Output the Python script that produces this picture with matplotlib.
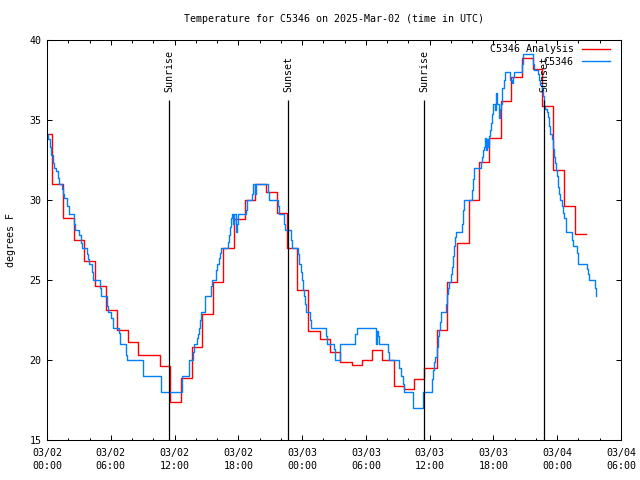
import matplotlib
matplotlib.use("Agg")
import matplotlib.pyplot as plt
import pandas as pd

start = pd.Timestamp("2025-03-02 00:00")

# analysis (hourly), hours since 03/02 00:00 UTC, deg F
ana_hours = [0, 0.5, 1.5, 2.55, 3.5, 4.55, 5.55, 6.6, 7.6, 8.6, 9.6, 10.6, 11.55,
             12.6, 13.6, 14.55, 15.6, 16.6, 17.6, 18.6, 19.6, 20.6, 21.6, 22.6,
             23.55, 24.6, 25.65, 26.6, 27.6, 28.65, 29.6, 30.6, 31.55, 32.6, 33.55,
             34.55, 35.5, 36.65, 37.6, 38.6, 39.7, 40.6, 41.6, 42.7, 43.65, 44.65,
             45.75, 46.6, 47.6, 48.65, 49.65, 50.7]
ana_temp = [34.1, 31.0, 28.9, 27.5, 26.2, 24.6, 23.1, 21.9, 21.1, 20.3, 20.3, 19.6,
            17.4, 18.9, 20.8, 22.9, 24.9, 27.0, 28.8, 30.0, 31.0, 30.5, 29.2, 27.0,
            24.4, 21.8, 21.3, 20.5, 19.9, 19.7, 20.0, 20.6, 20.0, 18.4, 18.2, 18.8,
            19.5, 21.9, 24.9, 27.3, 30.0, 32.4, 33.9, 36.2, 37.7, 38.9, 38.2, 35.9,
            31.9, 29.6, 27.9, 27.9]

# station observations
obs_hours = [0.0, 0.12, 0.28, 0.41, 0.56, 0.69, 0.88, 1.0, 1.1, 1.38, 1.47, 1.57,
             1.88, 2.04, 2.57, 2.63, 3.04, 3.2, 3.26, 3.73, 3.89, 3.98, 4.26, 4.36,
             4.99, 5.05, 5.64, 5.74, 6.02, 6.18, 6.24, 6.77, 6.9, 7.43, 7.53, 9.06,
             10.72, 12.67, 13.36, 13.77, 13.86, 14.14, 14.24, 14.33, 14.42, 14.52,
             14.86, 15.4, 15.49, 15.87, 15.96, 16.21, 16.3, 16.4, 17.06, 17.15,
             17.25, 17.34, 17.4, 17.53, 17.62, 17.75, 17.87, 18.0, 18.72, 18.81,
             19.25, 19.38, 19.57, 19.69, 20.76, 20.88, 21.7, 21.8, 22.33, 22.42,
             22.95, 23.08, 23.64, 23.73, 23.86, 23.96, 24.05, 24.18, 24.27, 24.36,
             24.77, 24.84, 26.22, 26.31, 26.97, 27.09, 27.56, 28.97, 29.13, 30.92,
             31.01, 31.1, 31.23, 32.05, 32.17, 33.14, 33.27, 33.46, 33.58, 34.46,
             35.4, 36.19, 36.28, 36.41, 36.53, 36.66, 36.75, 36.85, 36.97, 37.1,
             37.5, 37.6, 37.72, 37.85, 37.98, 38.07, 38.17, 38.26, 38.35, 38.45,
             39.07, 39.16, 39.26, 39.95, 40.05, 40.17, 40.8, 40.9, 40.99, 41.08,
             41.18, 41.27, 41.36, 41.46, 41.55, 41.67, 41.77, 41.86, 41.96, 42.14,
             42.27, 42.36, 42.49, 42.62, 42.71, 42.83, 42.96, 43.06, 43.56, 43.71,
             43.81, 43.93, 44.65, 44.75, 45.75, 45.84, 46.16, 46.28, 46.41, 46.54,
             46.69, 46.78, 46.88, 47.01, 47.1, 47.2, 47.32, 47.48, 47.57, 47.67,
             47.76, 47.88, 47.98, 48.07, 48.19, 48.29, 48.42, 48.51, 48.61, 48.8,
             49.36, 49.45, 49.89, 49.98, 50.77, 50.89, 51.02, 51.58, 51.62, 51.65]
obs_temp = [34.1, 33.8, 33.3, 32.8, 32.3, 32.0, 31.8, 31.4, 31.0, 30.7, 30.4, 30.1,
            29.6, 29.1, 28.5, 28.1, 27.8, 27.3, 27.0, 26.6, 26.3, 26.0, 25.5, 25.0,
            24.5, 24.0, 23.4, 23.0, 22.6, 22.2, 22.0, 21.7, 21.0, 20.3, 20.0, 19.0,
            18.0, 19.0, 20.0, 20.5, 21.0, 21.4, 21.6, 22.0, 22.5, 23.0,
            24.0, 24.6, 25.0, 25.6, 26.0, 26.4, 26.7, 27.0, 27.4, 27.8,
            28.3, 28.9, 29.1, 28.5, 29.1, 28.0, 28.5, 29.1, 29.4, 30.0,
            30.4, 31.0, 30.4, 31.0, 30.5, 30.0, 29.6, 29.1, 28.5, 28.1,
            27.5, 27.0, 26.6, 26.0, 25.5, 25.0, 24.4, 24.0, 23.5, 23.0,
            22.5, 22.0, 21.5, 21.0, 20.7, 20.0, 21.0, 21.6, 22.0, 21.0,
            21.8, 21.5, 21.0, 20.5, 20.0, 19.5, 19.0, 18.5, 18.0, 17.0,
            18.0, 18.8, 19.4, 19.9, 20.2, 20.8, 21.5, 21.9, 22.4, 23.0,
            23.5, 24.1, 24.5, 24.9, 25.4, 25.8, 26.5, 27.1, 27.7, 28.0,
            28.5, 29.4, 30.0, 30.6, 31.3, 32.0, 32.4, 32.7, 33.1, 33.3,
            33.9, 33.1, 33.8, 33.3, 34.0, 34.4, 34.8, 35.4, 36.0, 35.6,
            36.7, 36.0, 35.1, 35.7, 36.0, 37.0, 37.5, 38.0, 37.5, 37.3,
            37.7, 38.0, 38.5, 39.1, 38.5, 38.1, 37.9, 37.5, 37.2, 36.9,
            36.5, 35.9, 35.7, 35.5, 35.2, 34.6, 34.1, 33.8, 33.2, 32.7,
            32.3, 31.9, 31.5, 30.8, 30.4, 30.0, 29.6, 29.2, 28.9, 28.0,
            27.5, 27.1, 26.7, 26.0, 25.7, 25.4, 25.0, 24.5, 24.0, 24.0]

sun_hours = [11.5, 22.7, 35.47, 46.76]
sun_labels = ["Sunrise", "Sunset", "Sunrise", "Sunset"]

plt.rcParams["font.family"] = ["DejaVu Sans Mono"]
plt.rcParams["font.size"] = 7.2

fig = plt.figure(figsize=(6.4, 4.8), dpi=100)
ax = fig.add_axes([47 / 640, 40 / 480, 574 / 640, 400 / 480])

ax.plot(ana_hours, ana_temp, drawstyle="steps-post", color="#ff0000", lw=1.0,
        label="C5346 Analysis")
ax.plot(obs_hours, obs_temp, drawstyle="steps-post", color="#0080ff", lw=1.0,
        label="C5346")

for h, lab in zip(sun_hours, sun_labels):
    ax.vlines(h, 15, 36.25, color="black", lw=0.9)
    ax.text(h, 36.72, lab, rotation=90, ha="center", va="bottom")

ax.set_xlim(0, 54)
ax.set_ylim(15, 40)

xt = list(range(0, 55, 6))
ax.set_xticks(xt)
ax.set_xticklabels([(start + pd.Timedelta(hours=h)).strftime("%m/%d\n%H:%M") for h in xt],
                   linespacing=1.45)
ax.set_xticks(list(range(0, 55, 2)), minor=True)
ax.set_yticks(range(15, 41, 5))

ax.tick_params(which="both", direction="in", top=True, right=True, width=0.75)
ax.tick_params(which="major", length=3.6)
ax.tick_params(which="minor", length=1.8)
ax.tick_params(axis="x", pad=5.5)
ax.tick_params(axis="y", pad=4)
for s in ax.spines.values():
    s.set_linewidth(0.75)

ax.set_title("Temperature for C5346 on 2025-Mar-02 (time in UTC)", fontsize=7.2, pad=13)
ax.set_ylabel("degrees F", labelpad=10)

ax.legend(loc="upper right", bbox_to_anchor=(0.982, 0.992), frameon=False,
          markerfirst=False, handlelength=2.8, handletextpad=0.8,
          labelspacing=0.25, borderpad=0.1, borderaxespad=0)

fig.savefig("out.png", dpi=100)
